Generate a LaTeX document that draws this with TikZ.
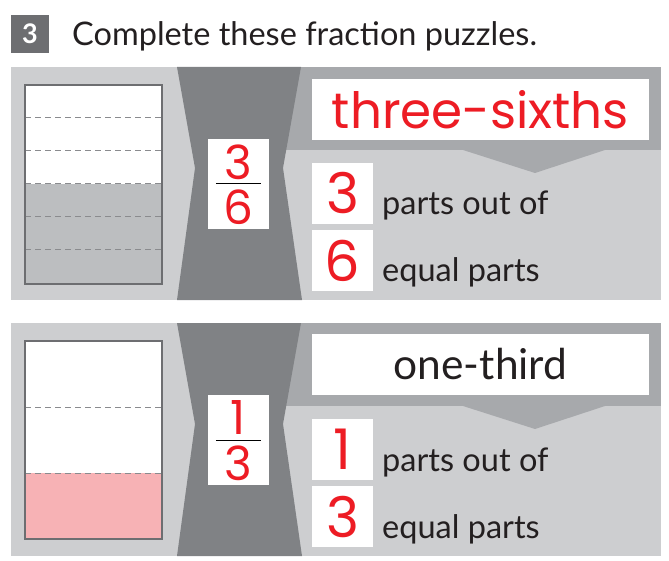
\documentclass[tikz,border=0pt]{standalone}
\usepackage{fontspec}
\setmainfont{Lato}
\newfontfamily\handfont{Poppins}
\usetikzlibrary{positioning}
\definecolor{panelgray}{HTML}{CDCED0}
\definecolor{glassgray}{HTML}{808285}
\definecolor{bandgray}{HTML}{A7A9AC}
\definecolor{partgray}{HTML}{BCBEC0}
\definecolor{partpink}{HTML}{F7B2B5}
\definecolor{barline}{HTML}{6D6E71}
\definecolor{pencil}{HTML}{ED1C24}
\definecolor{ink}{HTML}{231F20}
\tikzstyle{whitebox}=[fill=white,inner sep=0pt]
\tikzstyle{titlebox}=[whitebox,minimum width=337pt,minimum height=61pt]
\tikzstyle{numbox}=[whitebox,minimum width=61pt,minimum height=61pt,text=pencil,font=\handfont\fontsize{56}{56}\selectfont]
\tikzstyle{fracbox}=[whitebox,minimum width=61pt,minimum height=90pt]
\tikzstyle{fracdigit}=[text=pencil,inner sep=0pt,font=\handfont\fontsize{47}{47}\selectfont]
\tikzstyle{fracline}=[black,line width=1pt]
\tikzstyle{words}=[anchor=base west,inner sep=0pt,text=ink,font=\fontsize{32.5}{32.5}\selectfont]
\tikzstyle{cut}=[barline!80,dash pattern=on 6pt off 4pt,line width=1pt]
\tikzstyle{bar}=[draw=barline,line width=2pt]

\begin{document}
\begin{tikzpicture}[x=1pt,y=-1pt]
\useasboundingbox (0,0) rectangle (669,561);
\node[fill=barline,minimum size=38pt,inner sep=0pt,text=white,font=\bfseries\fontsize{27}{27}\selectfont] (qnum) at (30,34) {3};
\node[words,font=\fontsize{32.5}{32.5}\selectfont] (task) at (72,46) {Complete these fraction puzzles.};
\foreach \dy in {0,256}{
\begin{scope}[yshift=-\dy pt]
\fill[panelgray] (11,67) rectangle (661,300);
\fill[bandgray] (283,67) rectangle (661,150);
\fill[bandgray] (463,150) -- (535,173) -- (605,150) -- cycle;
\fill[glassgray] (177,67) -- (301,67) -- (283,168) -- (302,300) -- (177,300) -- (195,168) -- cycle;
\end{scope}}
% three-sixths
\fill[white] (25,85) rectangle (162,184);
\fill[partgray] (25,184) rectangle (162,284);
\foreach \y in {118,151,184,217,250} \draw[cut] (25,\y) -- (162,\y);
\draw[bar] (25,85) rectangle (162,284);
\node[fracbox] (frac1) at (238.5,184) {};
\node[fracdigit] (top1) at (238.5,162) {3};
\node[fracdigit] (bot1) at (238.5,207) {6};
\draw[fracline] ([xshift=8pt]frac1.west) -- ([xshift=-8pt]frac1.east);
\node[titlebox,text=pencil,font=\handfont\fontsize{50}{50}\selectfont] (name1) at (480.5,109.5) {three-sixths};
\node[numbox] (part1) at (342.5,193.5) {3};
\node[numbox,below=6pt of part1] (whole1) {6};
\node[words] (say1) at (382,215) {parts out of};
\node[words] (tell1) at (382,282) {equal parts};
% one-third
\fill[white] (25,341) rectangle (162,473);
\fill[partpink] (25,473) rectangle (162,539);
\foreach \y in {407,473} \draw[cut] (25,\y) -- (162,\y);
\draw[bar] (25,341) rectangle (162,539);
\node[fracbox] (frac2) at (238.5,440) {};
\node[fracdigit] (top2) at (238.5,418) {1};
\node[fracdigit] (bot2) at (238.5,463) {3};
\draw[fracline] ([xshift=8pt]frac2.west) -- ([xshift=-8pt]frac2.east);
\node[titlebox,text=ink,font=\fontsize{42.5}{42.5}\selectfont] (name2) at (480.5,364.5) {one-third};
\node[numbox] (part2) at (342.5,449.5) {1};
\node[numbox,below=6pt of part2] (whole2) {3};
\node[words] (say2) at (382,471) {parts out of};
\node[words] (tell2) at (382,538) {equal parts};
\end{tikzpicture}
\end{document}
